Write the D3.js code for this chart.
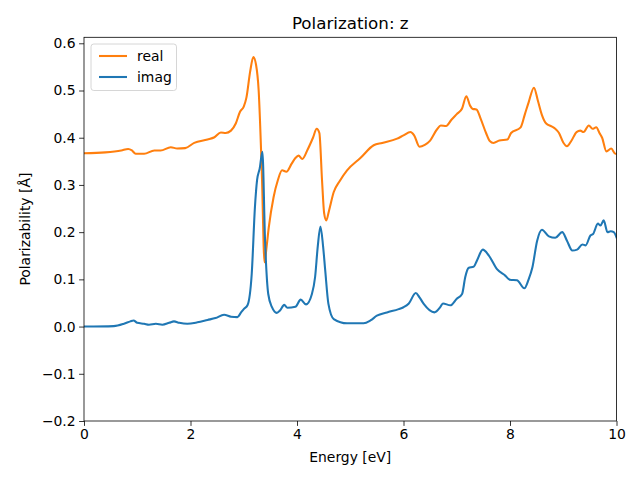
<!DOCTYPE html>
<html><head><meta charset="utf-8">
<script src="https://cdn.jsdelivr.net/npm/d3@7"></script>
<style>body{margin:0;background:#fff}svg{display:block;font-family:"DejaVu Sans",sans-serif}</style>
</head><body><svg id="c" width="640" height="480"></svg>
<script>
const realEnergy = [0,0.4,0.7,0.83,0.9,0.97,1.13,1.32,1.44,1.63,1.75,1.9,2.07,2.32,2.45,2.57,2.66,2.76,2.85,2.93,3.0,3.05,3.12,3.18,3.23,3.28,3.34,3.39,3.43,3.47,3.56,3.64,3.72,3.8,3.9,3.97,4.03,4.1,4.2,4.3,4.37,4.42,4.47,4.51,4.55,4.6,4.69,4.8,4.94,5.19,5.44,5.6,5.88,6.0,6.13,6.2,6.3,6.4,6.5,6.63,6.7,6.8,6.9,7.0,7.1,7.18,7.25,7.3,7.37,7.45,7.55,7.62,7.69,7.8,7.95,8.02,8.2,8.28,8.35,8.45,8.52,8.6,8.68,8.78,8.85,8.92,9.0,9.07,9.15,9.25,9.32,9.38,9.48,9.55,9.62,9.68,9.73,9.81,9.9,9.98,10];
const realValues = [0.367,0.369,0.373,0.376,0.373,0.366,0.366,0.373,0.373,0.380,0.377,0.378,0.389,0.396,0.401,0.411,0.410,0.415,0.430,0.455,0.466,0.485,0.54,0.571,0.555,0.50,0.324,0.136,0.17,0.21,0.274,0.31,0.331,0.328,0.345,0.357,0.362,0.355,0.375,0.400,0.419,0.41,0.31,0.24,0.225,0.245,0.285,0.308,0.331,0.357,0.384,0.389,0.398,0.405,0.412,0.405,0.381,0.385,0.394,0.418,0.426,0.425,0.438,0.450,0.462,0.488,0.468,0.461,0.460,0.44,0.41,0.393,0.389,0.394,0.396,0.41,0.422,0.45,0.475,0.506,0.48,0.448,0.43,0.424,0.419,0.41,0.39,0.382,0.393,0.412,0.415,0.412,0.426,0.419,0.422,0.41,0.400,0.371,0.377,0.366,0.366];
const imagEnergy = [0,0.56,0.75,0.87,0.93,1.0,1.13,1.22,1.35,1.47,1.6,1.69,1.79,1.94,2.13,2.32,2.47,2.63,2.76,2.88,2.95,3.0,3.07,3.15,3.21,3.25,3.3,3.35,3.40,3.46,3.53,3.62,3.68,3.76,3.82,3.97,4.07,4.17,4.28,4.34,4.39,4.44,4.49,4.53,4.59,4.69,4.94,5.25,5.38,5.5,5.69,5.91,6.0,6.1,6.23,6.3,6.38,6.58,6.69,6.74,6.88,7.0,7.1,7.16,7.22,7.32,7.38,7.49,7.6,7.76,7.91,8.0,8.13,8.27,8.35,8.42,8.51,8.6,8.73,8.85,8.98,9.07,9.17,9.26,9.36,9.42,9.51,9.56,9.65,9.7,9.76,9.83,9.89,9.95,10];
const imagValues = [0,0.001,0.006,0.011,0.013,0.008,0.006,0.004,0.006,0.004,0.008,0.011,0.008,0.006,0.009,0.014,0.018,0.025,0.021,0.020,0.03,0.037,0.045,0.112,0.253,0.31,0.335,0.37,0.182,0.069,0.041,0.029,0.034,0.046,0.040,0.042,0.057,0.047,0.069,0.105,0.17,0.212,0.17,0.119,0.048,0.016,0.007,0.007,0.013,0.023,0.030,0.037,0.041,0.049,0.071,0.062,0.048,0.030,0.041,0.049,0.045,0.059,0.069,0.105,0.124,0.127,0.14,0.163,0.151,0.121,0.108,0.099,0.098,0.081,0.1,0.125,0.182,0.205,0.191,0.188,0.2,0.182,0.161,0.163,0.174,0.172,0.193,0.196,0.218,0.214,0.225,0.2,0.202,0.2,0.189];
const xTicks = [0,2,4,6,8,10];
const yTicks = [-0.2,-0.1,0.0,0.1,0.2,0.3,0.4,0.5,0.6];
const seriesNames = ["real","imag"];
const seriesColors = ["#ff7f0e","#1f77b4"];
const titleText = "Polarization: z";
const xLabel = "Energy [eV]";
const yLabel = "Polarizability [Å]";

const L=84,R=616.5,T=37.3,B=421;
const svg=d3.select("#c");
const x=d3.scaleLinear().domain([0,10]).range([L,R]);
const y=d3.scaleLinear().domain([-0.2,0.6127]).range([B,T]);
svg.append("defs").append("clipPath").attr("id","clip").append("rect").attr("x",L).attr("y",T).attr("width",R-L).attr("height",B-T);

const fmtY=d=>{const s=d.toFixed(1);return d<0?"\u2212"+s.slice(1):s;};
const xa=svg.append("g").attr("transform",`translate(0,${B})`).call(d3.axisBottom(x).tickValues(xTicks).tickFormat(d3.format("d")).tickSize(4.9).tickPadding(3.5));
const ya=svg.append("g").attr("transform",`translate(${L},0)`).call(d3.axisLeft(y).tickValues(yTicks).tickFormat(fmtY).tickSize(4.9).tickPadding(3.5));
[xa,ya].forEach(a=>{a.select(".domain").remove();a.selectAll("line").attr("stroke","#000").attr("stroke-width",0.8);a.selectAll("text").attr("font-size","13.9px").attr("font-family","DejaVu Sans").attr("fill","#000");});

const series=[{e:realEnergy,v:realValues},{e:imagEnergy,v:imagValues}];
const line=d3.line().x(d=>x(d[0])).y(d=>y(d[1])).curve(d3.curveMonotoneX);
series.forEach((s,i)=>{
  svg.append("path").datum(s.e.map((e,j)=>[e,s.v[j]])).attr("d",line).attr("fill","none").attr("stroke",seriesColors[i]).attr("stroke-width",2.08).attr("stroke-linejoin","round").attr("stroke-linecap","square").attr("clip-path","url(#clip)");
});
svg.append("rect").attr("x",L).attr("y",T).attr("width",R-L).attr("height",B-T).attr("fill","none").attr("stroke","#000").attr("stroke-width",0.8);

svg.append("text").attr("x",(L+R)/2).attr("y",T-8).attr("text-anchor","middle").attr("font-size","16.7px").text(titleText);
svg.append("text").attr("x",(L+R)/2).attr("y",462).attr("text-anchor","middle").attr("font-size","13.9px").text(xLabel);
svg.append("text").attr("transform",`translate(30,${(T+B)/2}) rotate(-90)`).attr("text-anchor","middle").attr("font-size","13.9px").text(yLabel);

const lg=svg.append("g");
lg.append("rect").attr("x",91).attr("y",44).attr("width",85.5).attr("height",46.5).attr("rx",2.8).attr("fill","#fff").attr("fill-opacity",0.8).attr("stroke","#cccccc").attr("stroke-width",0.8);
seriesNames.forEach((n,i)=>{
  const yy=56+i*21;
  lg.append("line").attr("x1",99).attr("x2",127).attr("y1",yy).attr("y2",yy).attr("stroke",seriesColors[i]).attr("stroke-width",2.08);
  lg.append("text").attr("x",137).attr("y",yy+5).attr("font-size","13.9px").text(n);
});
</script></body></html>
